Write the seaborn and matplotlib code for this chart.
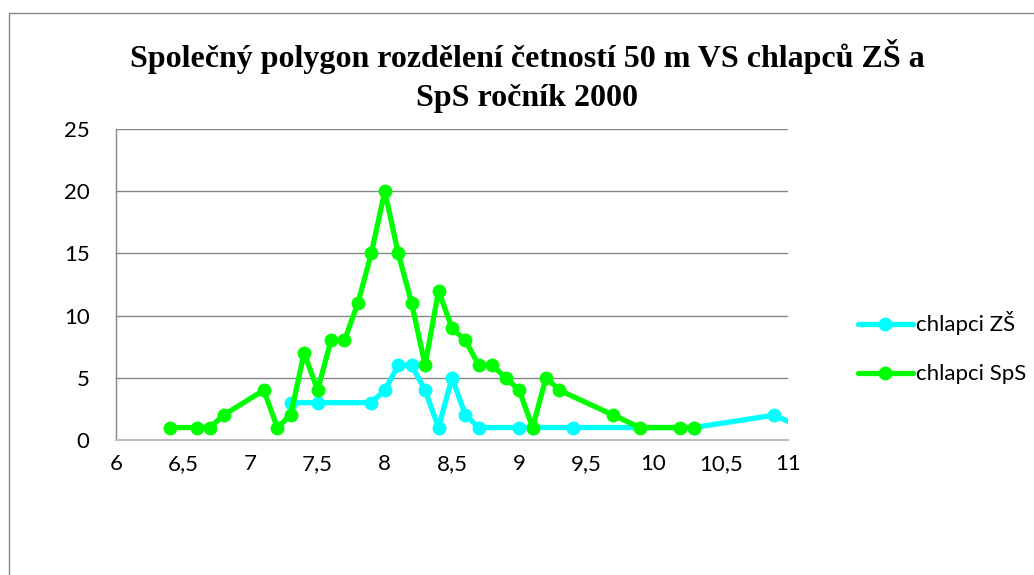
import pandas as pd
import matplotlib.pyplot as plt
import matplotlib.patches as patches
import seaborn as sns

# Data
zs_x = [7.3, 7.5, 7.9, 8.0, 8.1, 8.2, 8.3, 8.4, 8.5, 8.6, 8.7, 9.0, 9.1, 9.4, 10.3, 10.9, 11.1]
zs_y = [3, 3, 3, 4, 6, 6, 4, 1, 5, 2, 1, 1, 1, 1, 1, 2, 1]

sps_x = [6.4, 6.6, 6.7, 6.8, 7.1, 7.2, 7.3, 7.4, 7.5, 7.6, 7.7, 7.8, 7.9, 8.0, 8.1, 8.2,
         8.3, 8.4, 8.5, 8.6, 8.7, 8.8, 8.9, 9.0, 9.1, 9.2, 9.3, 9.7, 9.9, 10.2, 10.3]
sps_y = [1, 1, 1, 2, 4, 1, 2, 7, 4, 8, 8, 11, 15, 20, 15, 11,
         6, 12, 9, 8, 6, 6, 5, 4, 1, 5, 4, 2, 1, 1, 1]

series_names = ['chlapci ZŠ', 'chlapci SpS']
x_ticks = [6, 6.5, 7, 7.5, 8, 8.5, 9, 9.5, 10, 10.5, 11]
y_ticks = [0, 5, 10, 15, 20, 25]

titulek = 'Společný polygon rozdělení četností 50 m VS chlapců ZŠ a\nSpS ročník 2000'

df = pd.concat([
    pd.DataFrame({'cas': zs_x, 'pocet': zs_y, 'skupina': series_names[0]}),
    pd.DataFrame({'cas': sps_x, 'pocet': sps_y, 'skupina': series_names[1]}),
])

sns.set_theme(style="white")
plt.rcParams['font.family'] = ['Lato', 'DejaVu Sans']

fig = plt.figure(figsize=(10.34, 5.75), dpi=100)
ax = fig.add_axes([0.1122, 0.2348, 0.762 - 0.1122, 0.7757 - 0.2348])

barvy = {'chlapci ZŠ': '#00ffff', 'chlapci SpS': '#00ff00'}
sns.lineplot(data=df, x='cas', y='pocet', hue='skupina', hue_order=series_names,
             palette=barvy, marker='o', markersize=10, markeredgewidth=0,
             linewidth=3.8, sort=False, ax=ax)

ax.set_xlim(6, 11)
ax.set_ylim(0, 25)
ax.set_xticks(x_ticks)
ax.set_yticks(y_ticks)
ax.set_xticklabels([str(t).replace('.', ',') for t in x_ticks])
ax.tick_params(axis='x', length=0, pad=10, labelsize=16, labelcolor='black')
ax.tick_params(axis='y', length=0, pad=19, labelsize=16, labelcolor='black')
ax.set_xlabel('')
ax.set_ylabel('')

ax.yaxis.grid(True, color='#868686', linewidth=1)
ax.set_axisbelow(True)
for s in ['top', 'right']:
    ax.spines[s].set_visible(False)
ax.spines['left'].set_color('#868686')
ax.spines['left'].set_linewidth(1)
ax.spines['bottom'].set_color('#bfbfbf')
ax.spines['bottom'].set_linewidth(1.5)

handles, labels = ax.get_legend_handles_labels()
leg = ax.legend(handles, labels, loc='center left', bbox_to_anchor=(0.81, 0.395),
                bbox_transform=fig.transFigure, frameon=False, fontsize=16,
                handlelength=2.5, handletextpad=0.15, labelspacing=1.3)
for t in leg.get_texts():
    t.set_color('black')

fig.text(0.51, 0.868, titulek, ha='center', va='center', fontsize=23,
         fontweight='bold', family=['Liberation Serif', 'DejaVu Serif'],
         linespacing=1.42, color='black')

# outer chart frame (cropped on the right and bottom)
ramecek = patches.Rectangle((9 / 1034, -0.1), 1.2, 1 - 13 / 575 + 0.1,
                            transform=fig.transFigure, fill=False,
                            edgecolor='#868686', linewidth=1)
fig.patches.append(ramecek)

fig.savefig('out.png', dpi=100)
